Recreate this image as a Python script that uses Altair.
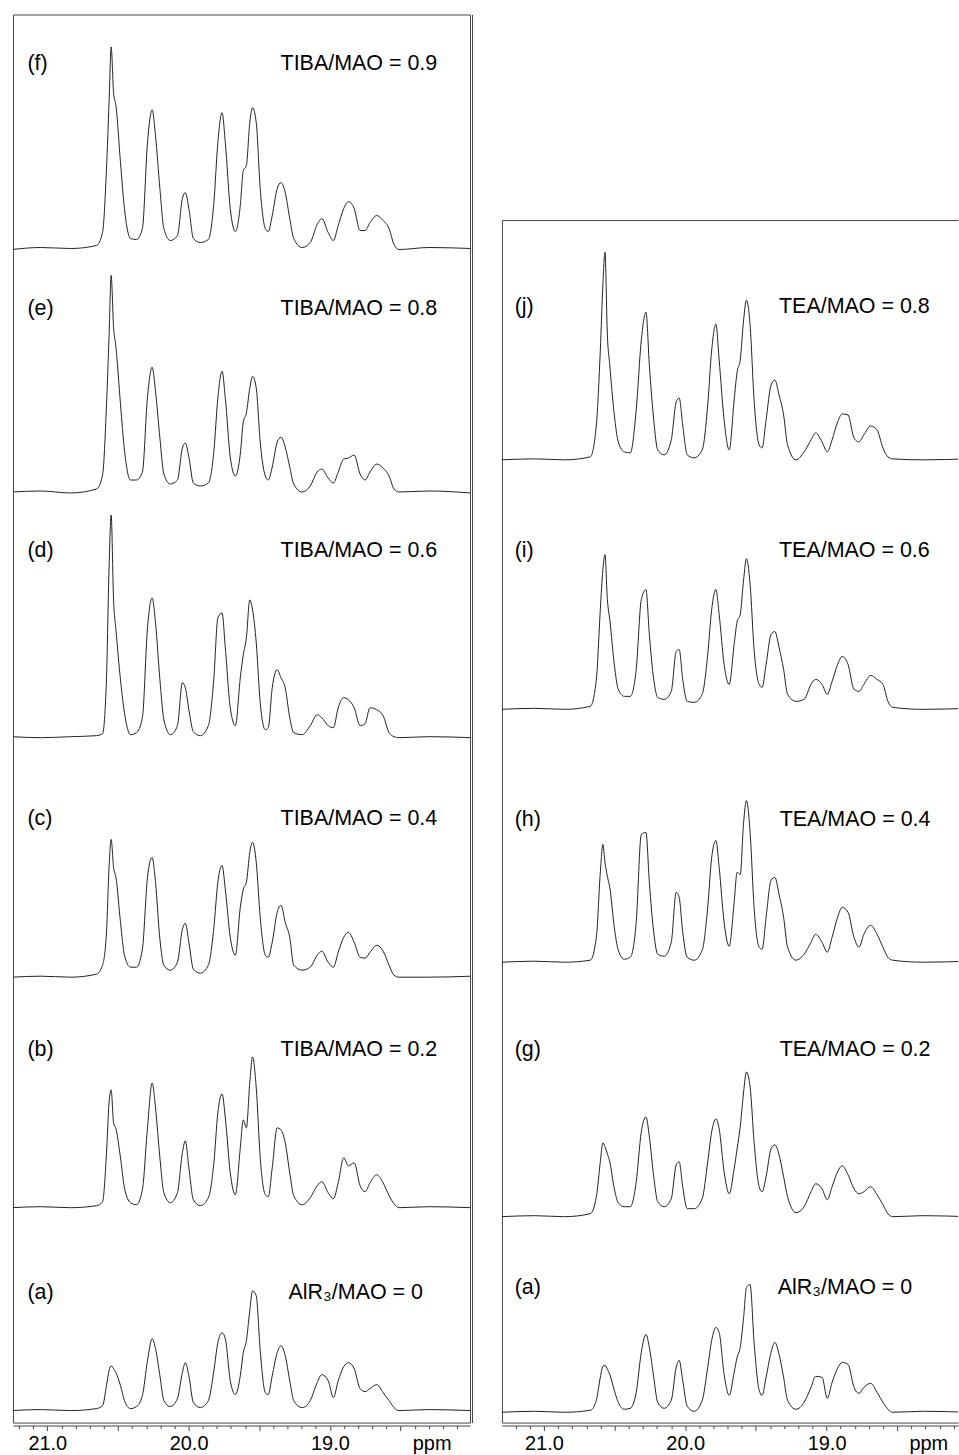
import altair as alt
import pandas as pd

# ---------------- data ----------------
# chemical-shift grid (ppm) of the sampled points, left and right columns
PPM_LEFT = [21.25, 21.047, 20.835, 20.652, 20.609, 20.581, 20.563, 20.548, 20.531, 20.514,
            20.482, 20.454, 20.411, 20.369, 20.327, 20.291, 20.258, 20.234, 20.203, 20.175,
            20.129, 20.079, 20.044, 20.023, 19.998, 19.966, 19.917, 19.860, 19.821, 19.793,
            19.763, 19.740, 19.705, 19.669, 19.634, 19.613, 19.591, 19.567, 19.547, 19.521,
            19.493, 19.457, 19.436, 19.408, 19.373, 19.346, 19.316, 19.284, 19.256, 19.196,
            19.139, 19.090, 19.057, 19.012, 18.975, 18.941, 18.902, 18.869, 18.828, 18.786,
            18.751, 18.716, 18.668, 18.623, 18.581, 18.546, 18.511, 18.299, 18.0]
PPM_RIGHT = [21.30, 21.067, 20.855, 20.672, 20.629, 20.601, 20.583, 20.568, 20.551, 20.534,
             20.502, 20.474, 20.431, 20.389, 20.347, 20.311, 20.278, 20.254, 20.223, 20.195,
             20.149, 20.099, 20.064, 20.043, 20.018, 19.986, 19.937, 19.880, 19.841, 19.813,
             19.783, 19.760, 19.725, 19.689, 19.654, 19.633, 19.611, 19.587, 19.567, 19.541,
             19.513, 19.477, 19.456, 19.428, 19.393, 19.366, 19.336, 19.304, 19.276, 19.216,
             19.159, 19.110, 19.077, 19.032, 18.995, 18.961, 18.922, 18.889, 18.848, 18.806,
             18.771, 18.736, 18.688, 18.643, 18.601, 18.566, 18.531, 18.319, 18.0]

# intensities (arbitrary units) at those grid points
TIBA_09 = [-1, 1, 0, 3, 16, 80, 146, 202, 156, 143, 86, 40, 10, 9, 20, 106, 139, 113, 60, 20,
           8, 13, 50, 56, 40, 10, 6, 9, 46, 106, 136, 106, 40, 17, 43, 78, 83, 126, 141, 126,
           60, 20, 17, 33, 60, 66, 56, 30, 10, 1, 6, 24, 30, 16, 8, 23, 40, 47, 40, 18,
           18, 26, 33, 28, 20, 4, -1, 1, 0]
TIBA_08 = [0, 1, -1, 3, 17, 87, 156, 217, 165, 145, 88, 42, 12, 12, 20, 95, 125, 101, 54, 18,
           8, 12, 44, 49, 35, 9, 6, 9, 41, 94, 121, 94, 35, 16, 38, 70, 79, 104, 116, 104,
           50, 16, 12, 25, 50, 55, 45, 25, 8, 0, 6, 20, 23, 14, 9, 20, 33, 34, 37, 18,
           12, 20, 28, 24, 16, 3, 0, 1, -1]
TIBA_06 = [1, 0, 1, 2, 4, 60, 170, 223, 138, 108, 58, 25, 3, 5, 20, 110, 140, 115, 58, 18,
           3, 12, 55, 50, 28, 6, 2, 12, 60, 120, 125, 90, 30, 12, 60, 83, 100, 138, 128, 95,
           35, 8, 10, 50, 68, 60, 50, 20, 5, 3, 12, 23, 20, 12, 10, 30, 40, 38, 30, 12,
           14, 30, 28, 22, 5, 1, 0, 1, 0]
TIBA_04 = [0, 1, 0, 3, 12, 45, 110, 138, 110, 100, 55, 22, 10, 10, 28, 100, 120, 95, 38, 12,
           7, 15, 48, 54, 35, 8, 4, 12, 50, 95, 112, 88, 40, 22, 70, 88, 95, 125, 135, 115,
           60, 22, 20, 35, 65, 72, 55, 40, 12, 7, 10, 22, 26, 15, 10, 25, 40, 45, 35, 20,
           19, 25, 32, 26, 12, 2, 0, 0, 1]
TIBA_02 = [0, 1, 0, 2, 6, 55, 105, 118, 85, 79, 50, 20, 5, 3, 18, 80, 125, 100, 50, 15,
           5, 15, 55, 67, 40, 8, 2, 10, 45, 95, 114, 90, 35, 13, 60, 88, 80, 125, 151, 120,
           50, 13, 11, 40, 80, 78, 65, 35, 12, 3, 10, 22, 26, 15, 9, 25, 50, 42, 45, 22,
           16, 25, 33, 25, 12, 4, 0, 1, 0]
ALR3_LEFT = [0, 1, 0, 2, 5, 25, 40, 45, 42, 38, 25, 10, 2, 4, 15, 50, 72, 62, 35, 10,
             4, 12, 38, 48, 35, 8, 3, 10, 40, 68, 78, 72, 30, 16, 35, 58, 70, 100, 120, 115,
             60, 18, 16, 35, 58, 65, 55, 30, 10, 3, 10, 28, 36, 30, 13, 30, 44, 48, 42, 22,
             19, 22, 26, 18, 10, 3, 0, 1, 0]
TEA_08 = [0, 1, 0, 3, 35, 110, 175, 208, 125, 95, 45, 18, 8, 7, 50, 120, 148, 95, 40, 10,
          5, 20, 58, 62, 35, 5, 2, 10, 55, 110, 136, 100, 40, 10, 60, 88, 100, 140, 160, 135,
          60, 15, 12, 40, 75, 80, 65, 45, 15, 0, 8, 20, 27, 18, 8, 20, 38, 46, 45, 22,
          18, 25, 34, 30, 12, 3, 1, 0, 1]
TEA_06 = [0, 1, 0, 3, 30, 100, 140, 155, 110, 90, 45, 20, 13, 13, 40, 110, 120, 75, 30, 12,
          10, 18, 58, 60, 30, 8, 7, 15, 55, 100, 120, 95, 45, 25, 65, 88, 95, 130, 151, 125,
          60, 25, 22, 45, 75, 78, 62, 40, 15, 8, 10, 25, 30, 25, 15, 28, 45, 53, 45, 20,
          18, 25, 34, 30, 25, 8, 2, 0, 1]
TEA_04 = [0, 1, 0, 2, 25, 90, 118, 100, 86, 75, 35, 12, 3, 5, 40, 128, 130, 80, 30, 8,
          6, 20, 70, 65, 30, 5, 2, 12, 55, 105, 122, 95, 40, 16, 60, 90, 88, 140, 162, 130,
          55, 15, 13, 45, 82, 85, 68, 45, 15, 2, 8, 20, 28, 20, 10, 25, 45, 55, 50, 25,
          15, 28, 37, 28, 15, 5, 2, 0, 1]
TEA_02 = [0, 1, 0, 3, 20, 55, 74, 70, 63, 55, 28, 14, 10, 10, 35, 85, 100, 80, 40, 15,
          10, 18, 52, 55, 30, 8, 8, 18, 55, 85, 98, 88, 45, 23, 48, 68, 90, 125, 145, 130,
          75, 30, 25, 40, 68, 72, 62, 40, 20, 4, 10, 25, 33, 28, 17, 30, 45, 51, 42, 28,
          23, 25, 30, 22, 12, 3, 0, 1, 0]
ALR3_RIGHT = [0, 1, 0, 2, 12, 35, 46, 47, 43, 38, 22, 10, 3, 4, 20, 60, 78, 65, 35, 10,
              4, 12, 45, 52, 32, 6, 1, 12, 45, 72, 85, 80, 38, 17, 40, 55, 65, 95, 125, 128,
              70, 22, 17, 35, 60, 70, 58, 35, 12, 3, 10, 25, 36, 35, 14, 30, 44, 50, 48, 25,
              19, 25, 29, 20, 10, 3, 0, 1, 0]

LEFT_TAGS = ["(f)", "(e)", "(d)", "(c)", "(b)", "(a)"]
LEFT_RATIOS = ["TIBA/MAO = 0.9", "TIBA/MAO = 0.8", "TIBA/MAO = 0.6",
               "TIBA/MAO = 0.4", "TIBA/MAO = 0.2", "AlR\u2083/MAO = 0"]
LEFT_SERIES = [TIBA_09, TIBA_08, TIBA_06, TIBA_04, TIBA_02, ALR3_LEFT]
RIGHT_TAGS = ["(j)", "(i)", "(h)", "(g)", "(a)"]
RIGHT_RATIOS = ["TEA/MAO = 0.8", "TEA/MAO = 0.6", "TEA/MAO = 0.4",
                "TEA/MAO = 0.2", "AlR\u2083/MAO = 0"]
RIGHT_SERIES = [TEA_08, TEA_06, TEA_04, TEA_02, ALR3_RIGHT]

# ---------------- layout (stack offsets, label anchors) ----------------
LEFT_STACK = [1176.5, 932.5, 686.3, 446.3, 215.3, 12.0]
RIGHT_STACK = [964.7, 714.7, 461.3, 206.3, 10.3]
LEFT_TAG_PPM = [21.141] * 6
LEFT_RATIO_PPM = [18.24, 18.24, 18.24, 18.24, 18.24, 18.341]
LEFT_LABEL_Y = [1361, 1116.3, 873, 604.7, 373, 129.7]
RIGHT_TAG_PPM = [21.207] * 5
RIGHT_RATIO_PPM = [18.27, 18.27, 18.265, 18.265, 18.394]
RIGHT_LABEL_Y = [1118, 873.7, 603.7, 373.7, 134.7]

MAJOR = [21.0, 20.5, 20.0, 19.5, 19.0, 18.5, 18.28]
MINOR = [21.2, 21.1, 20.9, 20.8, 20.7, 20.6, 20.4, 20.3, 20.2, 20.1, 19.9, 19.8, 19.7,
         19.6, 19.4, 19.3, 19.2, 19.1, 18.9, 18.8, 18.7, 18.6, 18.4, 18.3, 18.2, 18.1]

FONT = "Liberation Sans"
INK = "#222222"
FRAME = "#444444"


def spectra_frame(ppm, series, names, stack):
    rows = []
    for name, vals, off in zip(names, series, stack):
        assert len(vals) == len(ppm), (name, len(vals))
        for i, (p, v) in enumerate(zip(ppm, vals)):
            rows.append({"spectrum": name, "ppm": p, "intensity": v, "y": v + off, "i": i})
    return pd.DataFrame(rows)


def frame_axis(orient, offset=0):
    return alt.Axis(orient=orient, offset=offset, labels=False, ticks=False, grid=False,
                    title=None, domainColor=FRAME, domainWidth=1)


def column(ppm, series, tags, ratios, stack, tag_ppm, ratio_ppm, label_y,
           xdomain, width, height, boxed):
    df = spectra_frame(ppm, series, tags, stack)
    lab = pd.DataFrame({"tag": tags, "ratio": ratios, "tag_ppm": tag_ppm,
                        "ratio_ppm": ratio_ppm, "ly": label_y})
    xs = alt.Scale(domain=xdomain, reverse=True, nice=False, zero=False)
    ys = alt.Scale(domain=[0, height], nice=False, zero=False)
    major_axis = alt.Axis(
        values=MAJOR, orient="bottom", offset=3, grid=False, title=None,
        labelExpr="datum.value == 18.28 ? 'ppm' : (abs(datum.value % 1) < 0.001 ? format(datum.value, '.1f') : '')",
        tickOpacity={"condition": {"test": "datum.value == 18.28", "value": 0}, "value": 1},
        tickSize=5, tickColor=FRAME, domainColor=FRAME, domainWidth=1,
        labelFont=FONT, labelFontSize=20, labelColor="#000000", labelPadding=3,
        labelOverlap=False, labelFlush=False)
    minor_axis = alt.Axis(
        values=MINOR, orient="bottom", offset=3, grid=False, title=None, labels=False,
        domain=False, tickSize=3, tickColor=FRAME)
    if boxed:
        # full frame from the view; second (doubled) line on the right side
        y_lines = frame_axis("right", 2)
        x_ratio = None
        x_ghost = None
    else:
        # frame drawn only on left, top and bottom (right side runs off the page)
        y_lines = frame_axis("left", 0)
        x_ratio = frame_axis("top", 0)
        x_ghost = frame_axis("bottom", 0)
    lines = alt.Chart(df).mark_line(color=INK, strokeWidth=1, clip=True,
                                    interpolate="monotone").encode(
        x=alt.X("ppm:Q", scale=xs, axis=major_axis),
        y=alt.Y("y:Q", scale=ys, axis=y_lines),
        detail="spectrum:N",
        order="i:Q",
    )
    tags_l = alt.Chart(lab).mark_text(align="left", baseline="middle", font=FONT,
                                      fontSize=21.5, color="#000000").encode(
        x=alt.X("tag_ppm:Q", scale=xs, axis=minor_axis),
        y=alt.Y("ly:Q", scale=ys, axis=None),
        text="tag:N",
    )
    ratio_l = alt.Chart(lab).mark_text(align="right", baseline="middle", font=FONT,
                                       fontSize=21.5, color="#000000").encode(
        x=alt.X("ratio_ppm:Q", scale=xs, axis=x_ratio),
        y=alt.Y("ly:Q", scale=ys, axis=None),
        text="ratio:N",
    )
    layers = [lines, tags_l, ratio_l]
    if x_ghost is not None:
        ghost = alt.Chart(lab).mark_text(opacity=0, text=" ").encode(
            x=alt.X("ratio_ppm:Q", scale=xs, axis=x_ghost),
            y=alt.Y("ly:Q", scale=ys, axis=None),
        )
        layers.append(ghost)
    props = dict(width=width, height=height)
    if not boxed:
        props["view"] = alt.ViewBackground(stroke="transparent")
    return alt.layer(*layers).resolve_axis(
        x="independent", y="independent").properties(**props)


left = column(PPM_LEFT, LEFT_SERIES, LEFT_TAGS, LEFT_RATIOS, LEFT_STACK,
              LEFT_TAG_PPM, LEFT_RATIO_PPM, LEFT_LABEL_Y,
              [18.008, 21.243], 458, 1411, True)
right = column(PPM_RIGHT, RIGHT_SERIES, RIGHT_TAGS, RIGHT_RATIOS, RIGHT_STACK,
               RIGHT_TAG_PPM, RIGHT_RATIO_PPM, RIGHT_LABEL_Y,
               [18.070, 21.297], 457, 1205, False)

spacer = alt.Chart(pd.DataFrame({"v": [0]})).mark_point(opacity=0).encode(
    x=alt.X("v:Q", axis=None), y=alt.Y("v:Q", axis=None)
).properties(width=457, height=206, view=alt.ViewBackground(stroke="transparent"))

right_col = alt.vconcat(spacer, right, spacing=0, bounds="flush")

chart = alt.hconcat(left, right_col, spacing=32, bounds="flush").properties(
    padding={"left": 12, "top": 12, "right": 0, "bottom": 0},
    background="white",
).configure_view(stroke=FRAME, strokeWidth=1)

chart.save("out.html", embed_options={"renderer": "svg", "actions": False})
